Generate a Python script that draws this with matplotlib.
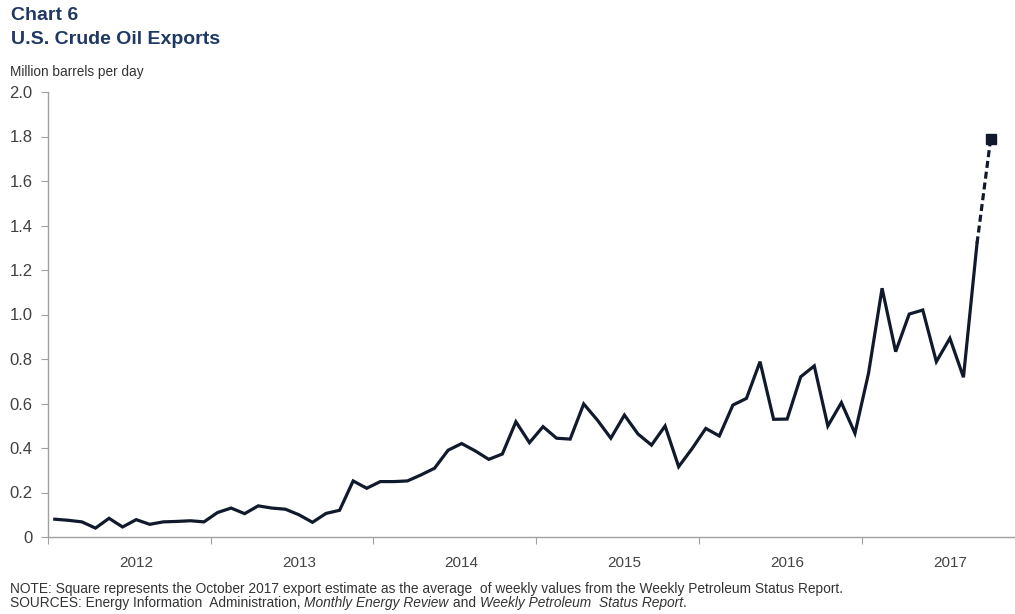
import numpy as np
import matplotlib.pyplot as plt

# monthly crude oil exports, million barrels per day (Jan 2012 - Sep 2017)
exports_2012 = [0.08, 0.075, 0.068, 0.04, 0.084, 0.045, 0.078, 0.057, 0.068, 0.07, 0.073, 0.068]
exports_2013 = [0.11, 0.13, 0.105, 0.14, 0.13, 0.125, 0.10, 0.066, 0.106, 0.12, 0.252, 0.219]
exports_2014 = [0.249, 0.249, 0.252, 0.279, 0.309, 0.39, 0.42, 0.387, 0.349, 0.373, 0.518, 0.424]
exports_2015 = [0.496, 0.444, 0.44, 0.598, 0.526, 0.444, 0.548, 0.463, 0.413, 0.499, 0.316, 0.398]
exports_2016 = [0.488, 0.454, 0.593, 0.623, 0.788, 0.529, 0.53, 0.72, 0.769, 0.499, 0.604, 0.466]
exports_2017 = [0.736, 1.118, 0.833, 1.002, 1.02, 0.788, 0.893, 0.718, 1.32]
oct_2017_estimate = 1.787

years = ["2012", "2013", "2014", "2015", "2016", "2017"]
y_ticks = [0, 0.2, 0.4, 0.6, 0.8, 1.0, 1.2, 1.4, 1.6, 1.8, 2.0]
y_labels = ["0", "0.2", "0.4", "0.6", "0.8", "1.0", "1.2", "1.4", "1.6", "1.8", "2.0"]

values = np.array(exports_2012 + exports_2013 + exports_2014 + exports_2015
                  + exports_2016 + exports_2017)
months = np.arange(len(values))
est_month = len(values)

plt.rcParams['font.family'] = ['Liberation Sans', 'DejaVu Sans']
navy = "#1f3864"
line_col = "#111a2c"
axis_col = "#a0a0a0"
note_col = "#333333"

fig = plt.figure(figsize=(10.15, 6.14), dpi=100)
ax = fig.add_axes([48 / 1015, 77 / 614, 1 - 48 / 1015, (537 - 92) / 614])

ax.plot(months, values, color=line_col, lw=2.3, solid_joinstyle='miter')
ax.plot([months[-1], est_month], [values[-1], oct_2017_estimate],
        color=line_col, lw=2.3, ls=(0, (2.2, 1.2)))
ax.plot([est_month], [oct_2017_estimate], marker='s', ms=6.5, color=line_col, ls='none')

ax.set_ylim(0, 2.0)
ax.set_xlim(-0.5, 70.8)
ax.set_yticks(y_ticks)
ax.set_yticklabels(y_labels)
ax.set_xticks([-0.5 + 12 * k for k in range(len(years))])
ax.set_xticklabels([])
ax.set_xticks([6 + 12 * k for k in range(len(years))], minor=True)
ax.set_xticklabels(years, minor=True)

for s in ["top", "right"]:
    ax.spines[s].set_visible(False)
for s in ["left", "bottom"]:
    ax.spines[s].set_color(axis_col)
    ax.spines[s].set_linewidth(1.0)
ax.tick_params(axis='y', length=5, color=axis_col, labelsize=12, labelcolor="#404040", pad=6)
ax.tick_params(axis='x', which='major', length=5, color=axis_col)
ax.tick_params(axis='x', which='minor', length=0, labelsize=11, labelcolor="#444444", pad=14)

fig.text(11 / 1015, 1 - 16 / 614, "Chart 6", fontsize=14, fontweight='bold', color=navy, va='center')
fig.text(11 / 1015, 1 - 40 / 614, "U.S. Crude Oil Exports", fontsize=14, fontweight='bold',
         color=navy, va='center')
fig.text(10 / 1015, 1 - 72 / 614, "Million barrels per day", fontsize=9.8, color=note_col, va='center')

fig.text(10 / 1015, 1 - 589 / 614,
         "NOTE: Square represents the October 2017 export estimate as the average  of weekly "
         "values from the Weekly Petroleum Status Report.",
         fontsize=9.9, color=note_col, va='center')

# sources line with italic titles, placed piece by piece
pieces = [("SOURCES: Energy Information  Administration, ", 'normal'),
          ("Monthly Energy Review", 'italic'),
          (" and ", 'normal'),
          ("Weekly Petroleum  Status Report", 'italic'),
          (".", 'normal')]
renderer = fig.canvas.get_renderer()
x = 10
for txt, style in pieces:
    t = fig.text(x / 1015, 1 - 603 / 614, txt, fontsize=9.9, style=style, color=note_col, va='center')
    x += t.get_window_extent(renderer).width

fig.savefig("out.png", dpi=100)
